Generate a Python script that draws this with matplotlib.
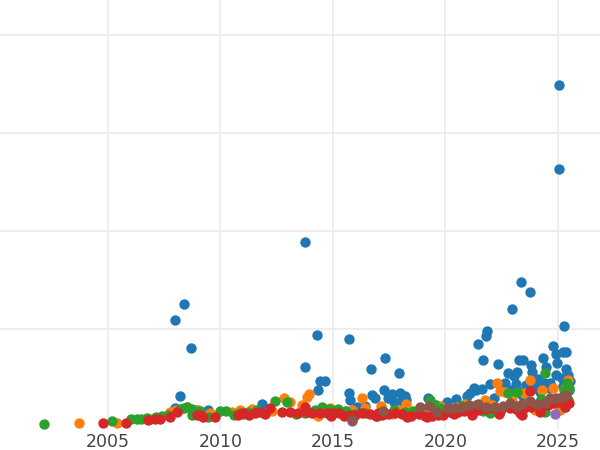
import matplotlib
matplotlib.use("Agg")
import matplotlib.pyplot as plt

# series values (year, value)
blue_x = [2025.04, 2025.04, 2013.76, 2008.38, 2007.98, 2008.69, 2023.36, 2023.76, 2022.96, 2025.27,
          2021.84, 2021.80, 2021.44, 2015.71, 2014.29, 2013.76, 2014.42, 2014.64, 2014.33, 2008.20,
          2017.31, 2016.69, 2017.93, 2015.71, 2015.76, 2016.73, 2016.87, 2017.27, 2017.62, 2017.98,
          2018.20, 2017.71, 2019.22, 2021.67, 2022.33, 2021.27, 2021.62, 2021.98, 2020.96, 2020.47,
          2020.07, 2022.78, 2023.04, 2023.27, 2023.44, 2023.80, 2023.84, 2024.33, 2024.47, 2024.11,
          2024.38, 2024.78, 2024.91, 2024.96, 2024.91, 2025.22, 2025.36, 2025.36, 2025.44, 2025.53,
          2025.22, 2022.87, 2023.31, 2023.58, 2023.84, 2024.20, 2024.60, 2023.40, 2007.98, 2009.44,
          2008.96, 2011.84, 2014.87, 2016.07, 2019.58, 2020.02, 2018.07, 2016.42, 2017.44, 2018.24,
          2019.40, 2021.09, 2022.47, 2022.16, 2023.13, 2024.07, 2024.64, 2025.18, 2025.49, 2023.18,
          2022.64, 2021.36]
blue_y = [349, 263, 189, 126, 109, 81, 148, 138, 121, 103,
          98, 93, 85, 90, 94, 61, 47, 47, 38, 32,
          71, 59, 55, 35, 28, 33, 30, 38, 34, 35,
          32, 26, 30, 68, 64, 40, 39, 44, 32, 29,
          26, 55, 52, 68, 68, 63, 56, 71, 61, 49,
          45, 83, 75, 65, 53, 77, 77, 59, 53, 47,
          42, 38, 36, 43, 42, 36, 40, 33, 19, 17,
          17, 24, 17, 20, 23, 24, 27, 22, 30, 28,
          24, 35, 40, 30, 44, 40, 45, 50, 38, 56,
          45, 38]

orange_x = [2003.71, 2005.40, 2006.87, 2007.76, 2008.02, 2008.51, 2009.53, 2010.51, 2010.87, 2011.40,
            2012.29, 2012.82, 2013.09, 2013.62, 2013.84, 2013.93, 2014.33, 2014.69, 2015.13, 2015.53,
            2016.29, 2016.42, 2017.13, 2017.89, 2018.24, 2018.91, 2019.40, 2020.07, 2020.87, 2021.44,
            2021.76, 2022.07, 2022.29, 2022.42, 2022.64, 2022.96, 2023.49, 2023.76, 2024.29, 2024.78,
            2025.31, 2025.44, 2023.31, 2023.98, 2025.09, 2020.51, 2019.76, 2017.62, 2015.84, 2009.00,
            2014.87, 2024.60]
orange_y = [4, 4, 8, 15, 17, 20, 14, 15, 17, 18,
            16, 30, 26, 23, 31, 34, 11, 16, 15, 16,
            30, 19, 22, 17, 24, 17, 16, 16, 24, 23,
            28, 23, 45, 37, 36, 28, 35, 48, 38, 40,
            40, 48, 19, 17, 17, 20, 22, 13, 17, 17,
            19, 28]

green_x = [2002.16, 2005.18, 2006.02, 2006.29, 2006.47, 2006.73, 2007.13, 2007.40, 2007.67, 2008.20,
           2008.38, 2008.73, 2008.51, 2008.73, 2009.09, 2009.44, 2010.24, 2010.60, 2010.87, 2011.22,
           2011.62, 2012.42, 2012.96, 2013.36, 2013.76, 2014.20, 2014.51, 2014.87, 2015.22, 2015.58,
           2015.93, 2016.42, 2016.96, 2017.22, 2017.71, 2018.20, 2018.56, 2019.31, 2019.49, 2019.76,
           2020.24, 2020.73, 2020.96, 2021.36, 2021.67, 2021.98, 2022.42, 2022.78, 2023.18, 2023.36,
           2023.98, 2024.24, 2024.42, 2024.87, 2025.18, 2025.40, 2025.27, 2025.49, 2025.44, 2025.31,
           2024.42, 2022.96, 2011.00, 2009.96]
green_y = [3, 6, 8, 8, 8, 9, 10, 11, 12, 18,
           19, 18, 20, 12, 16, 10, 16, 12, 14, 15,
           17, 27, 26, 13, 14, 17, 20, 18, 18, 16,
           13, 14, 11, 14, 17, 15, 16, 28, 23, 19,
           17, 22, 17, 23, 16, 14, 15, 35, 36, 17,
           22, 29, 55, 25, 30, 45, 38, 40, 28, 20,
           15, 20, 13, 16]

red_x = [2004.78, 2005.80, 2006.78, 2007.10, 2007.31, 2007.76, 2008.07, 2008.96, 2009.09, 2009.22,
         2009.76, 2010.78, 2011.27, 2011.53, 2011.76, 2012.20, 2012.73, 2013.09, 2013.44, 2013.76,
         2013.84, 2014.07, 2014.42, 2014.73, 2015.00, 2015.27, 2015.76, 2016.29, 2016.64, 2017.00,
         2017.44, 2017.76, 2018.07, 2018.47, 2018.82, 2019.09, 2019.40, 2019.67, 2020.20, 2020.56,
         2020.82, 2021.09, 2021.44, 2021.80, 2022.16, 2022.51, 2022.87, 2023.13, 2023.31, 2023.49,
         2023.76, 2023.80, 2024.07, 2024.33, 2024.56, 2024.78, 2025.00, 2025.18, 2025.36, 2025.49,
         2023.40, 2022.40, 2021.20, 2019.90, 2016.00, 2014.90, 2012.00, 2011.00, 2024.20, 2025.30,
         2015.50, 2016.90, 2018.30, 2019.20, 2017.20, 2020.40]
red_y = [4, 4, 7, 8, 8, 10, 15, 12, 12, 10,
         10, 12, 12, 14, 15, 19, 15, 15, 14, 20,
         15, 14, 14, 14, 14, 14, 12, 14, 13, 14,
         13, 14, 13, 11, 13, 11, 11, 12, 15, 15,
         16, 16, 17, 18, 19, 19, 19, 18, 14, 19,
         37, 21, 22, 22, 23, 25, 26, 26, 27, 25,
         12, 13, 12, 12, 12, 11, 13, 14, 15, 20,
         11, 11, 10, 10, 12, 13]

purple_x = [2015.84, 2024.87]
purple_y = [6, 13]

brown_x = [2015.84, 2017.22, 2018.87, 2019.27, 2019.62, 2020.11, 2020.42, 2020.73, 2021.04, 2021.44,
           2021.80, 2022.20, 2022.56, 2022.87, 2023.18, 2023.40, 2023.76, 2024.07, 2024.42, 2024.64,
           2024.91, 2025.18, 2025.36]
brown_y = [7, 16, 20, 22, 15, 19, 19, 21, 23, 24,
           20, 21, 22, 25, 22, 24, 27, 24, 25, 30,
           30, 31, 33]

year_ticks = [2005, 2010, 2015, 2020, 2025]
value_grid = [100, 200, 300, 400]

fig = plt.figure(figsize=(6, 4.5), dpi=100)
ax = fig.add_axes([0, 0.0444, 1, 0.9556])

series = [
    (blue_x, blue_y, "#1f77b4"),
    (orange_x, orange_y, "#ff7f0e"),
    (green_x, green_y, "#2ca02c"),
    (red_x, red_y, "#d62728"),
    (purple_x, purple_y, "#9467bd"),
    (brown_x, brown_y, "#8c564b"),
]
for xs, ys, c in series:
    ax.scatter(xs, ys, s=56, color=c, linewidths=0, zorder=3)

ax.set_xlim(2000.2, 2026.87)
ax.set_ylim(-3, 436)
ax.set_xticks(year_ticks)
ax.set_yticks(value_grid)
ax.set_yticklabels([])
ax.tick_params(axis="both", length=0)
ax.tick_params(axis="x", labelsize=12.5, labelcolor="#444444", pad=2)
ax.grid(True, color="#ededed", linewidth=1.3, zorder=0)
ax.set_axisbelow(True)
for s in ax.spines.values():
    s.set_visible(False)

fig.savefig("out.png", dpi=100)
